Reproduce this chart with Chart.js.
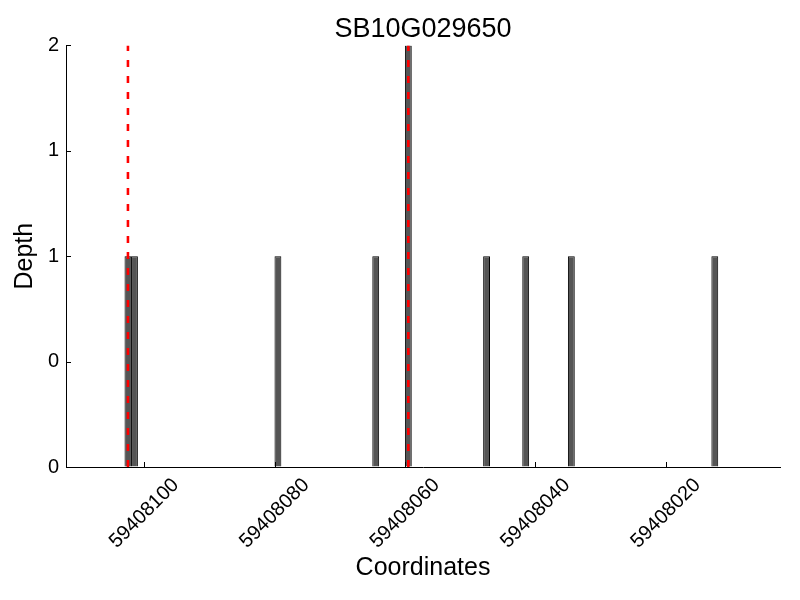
<!DOCTYPE html>
<html>
<head>
<meta charset="utf-8">
<title>SB10G029650</title>
<script src="https://cdn.jsdelivr.net/npm/chart.js@4.4.1/dist/chart.umd.min.js"></script>
<style>
  html, body { margin: 0; padding: 0; background: #fff; }
  #wrap { width: 800px; height: 600px; }
</style>
</head>
<body>
<div id="wrap"><canvas id="depthChart" width="800" height="600"></canvas></div>
<script>
// depth per coordinate
const coordinates = [59408102, 59408101, 59408079, 59408064, 59408059, 59408047, 59408041, 59408034, 59408012];
const depth = [1, 1, 1, 1, 2, 1, 1, 1, 1];
// red dashed markers
const markers = [59408102, 59408059];

const xTicks = [59408100, 59408080, 59408060, 59408040, 59408020];
const yTicks = [0, 0.5, 1, 1.5, 2];
const yTickLabels = ['0', '0', '1', '1', '2'];
const xMin = 59408002.5;
const xMax = 59408112;

const FONT = "'Liberation Sans', Arial, Helvetica, sans-serif";

// each bar covers one base: [c, c+1]
const barData = coordinates.map((c, i) => ({ x: c + 0.5, y: depth[i] }));

const markerSets = markers.map(m => ({
    type: 'line',
    data: [{ x: m + 0.5, y: 0 }, { x: m + 0.5, y: 2 }],
    borderColor: '#ff0000',
    borderWidth: 2.6,
    borderDash: [7, 9],
    pointRadius: 0,
    fill: false,
    order: 0
}));

// inward tick marks + centred rotated x labels
const axisDecor = {
    id: 'axisDecor',
    afterDraw(chart) {
        const ctx = chart.ctx;
        const x = chart.scales.x;
        const y = chart.scales.y;
        const area = chart.chartArea;
        ctx.save();
        ctx.strokeStyle = '#000';
        ctx.lineWidth = 1;
        ctx.beginPath();
        xTicks.forEach(v => {
            const px = Math.round(x.getPixelForValue(v)) + 0.5;
            ctx.moveTo(px, area.bottom);
            ctx.lineTo(px, area.bottom - 5);
        });
        yTicks.forEach(v => {
            const py = Math.round(y.getPixelForValue(v)) + 0.5;
            ctx.moveTo(area.left, py);
            ctx.lineTo(area.left + 5, py);
        });
        ctx.stroke();

        ctx.fillStyle = '#000';
        ctx.font = '20px ' + FONT;
        ctx.textAlign = 'center';
        ctx.textBaseline = 'middle';
        xTicks.forEach(v => {
            const label = String(v);
            const w = ctx.measureText(label).width;
            const half = (w + 14) * Math.SQRT1_2 / 2;
            ctx.save();
            ctx.translate(x.getPixelForValue(v), area.bottom + 10 + half);
            ctx.rotate(-Math.PI / 4);
            ctx.fillText(label, 0, 0);
            ctx.restore();
        });
        ctx.restore();
    }
};

new Chart(document.getElementById('depthChart'), {
    type: 'bar',
    data: {
        datasets: [...markerSets, {
            type: 'bar',
            data: barData,
            backgroundColor: '#555555',
            borderColor: '#000',
            borderWidth: 1,
            barPercentage: 1.05,
            categoryPercentage: 1,
            order: 1
        }]
    },
    options: {
        responsive: false,
        animation: false,
        layout: { padding: { top: 13, right: 20, left: 0, bottom: 0 } },
        plugins: {
            legend: { display: false },
            tooltip: { enabled: false },
            title: {
                display: true,
                text: 'SB10G029650',
                fullSize: false,
                color: '#000',
                font: { family: FONT, size: 27, weight: 'normal' },
                padding: { top: 0, bottom: 0 }
            }
        },
        scales: {
            x: {
                type: 'linear',
                reverse: true,
                min: xMin,
                max: xMax,
                offset: false,
                grid: { display: true, drawOnChartArea: false, drawTicks: false },
                border: { display: true, color: '#000', width: 1 },
                ticks: { display: false },
                afterBuildTicks: s => { s.ticks = xTicks.map(v => ({ value: v })); },
                afterFit: s => { s.height = 133; },
                title: {
                    display: true,
                    text: 'Coordinates',
                    color: '#000',
                    font: { family: FONT, size: 25 },
                    padding: { top: 0, bottom: 17 }
                }
            },
            y: {
                min: 0,
                max: 2,
                grid: { display: true, drawOnChartArea: false, drawTicks: false },
                border: { display: true, color: '#000', width: 1 },
                afterBuildTicks: s => { s.ticks = yTicks.map(v => ({ value: v })); },
                afterFit: s => { s.width = 66; },
                ticks: {
                    color: '#000',
                    padding: 7,
                    font: { family: FONT, size: 20 },
                    callback: (v, i) => yTickLabels[i]
                },
                title: {
                    display: true,
                    text: 'Depth',
                    color: '#000',
                    font: { family: FONT, size: 25 },
                    padding: { top: 10, bottom: 0 }
                }
            }
        }
    },
    plugins: [axisDecor]
});
</script>
</body>
</html>
